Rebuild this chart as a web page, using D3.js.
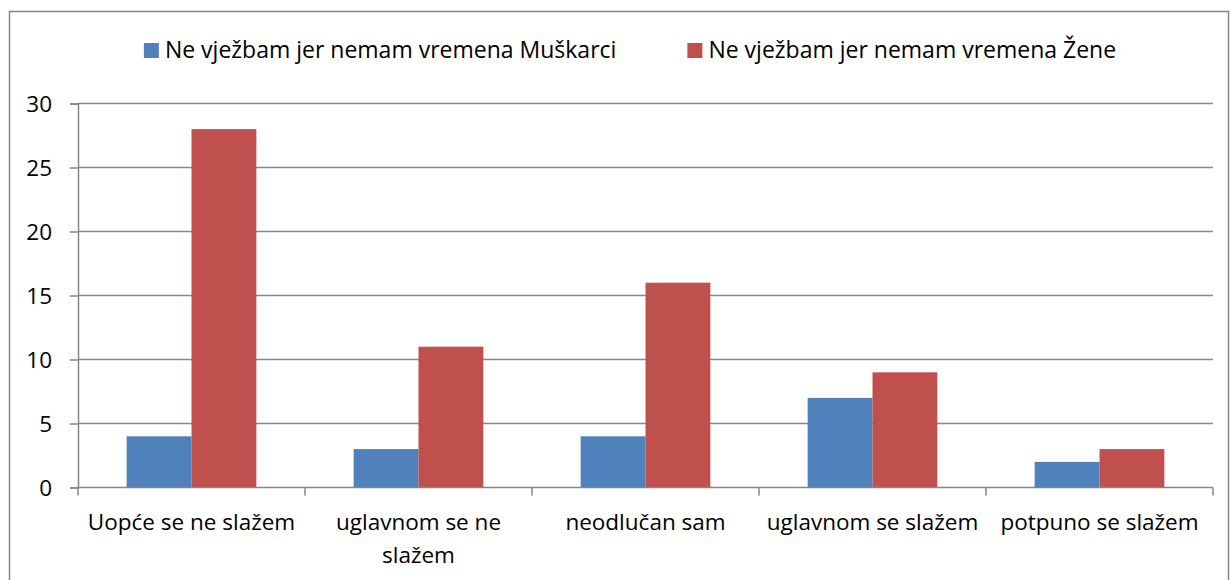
<!DOCTYPE html>
<html>
    <head>
        <meta charset="utf-8">
        <script src="https://d3js.org/d3.v7.min.js"></script>
        <style>
            body{margin:0;background:#fff;}
            text{font-family:"Open Sans","Noto Sans",sans-serif;fill:#000;}
        </style>
    </head>
    <body>
        <svg height="580" width="1231" id="chart"></svg>
        <script>
            // data
            const categories=["Uopće se ne slažem","uglavnom se ne slažem","neodlučan sam","uglavnom se slažem","potpuno se slažem"];
            const seriesNames=["Ne vježbam jer nemam vremena Muškarci","Ne vježbam jer nemam vremena Žene"];
            const muskarci=[4,3,4,7,2];
            const zene=[28,11,16,9,3];
            const yTicks=[0,5,10,15,20,25,30];
            const colors=["#4f81bd","#c0504d"];

            let svg=d3.select("#chart");
            let grey="#868686";
            let fs="22.5px";

            // outer frame
            svg.append("rect")
                .attr("x",9.5).attr("y",11.5)
                .attr("width",1219).attr("height",600)
                .style("fill","none").style("stroke",grey).style("stroke-width",1.5);

            let plotLeft=78, plotRight=1213, plotTop=103.5, plotBottom=487.5;

            let x0=d3.scaleBand().domain(categories).range([plotLeft,plotRight]).padding(0);
            let x1=d3.scaleBand().domain(seriesNames).range([0,x0.bandwidth()]).paddingInner(0).paddingOuter(0.75);
            let y=d3.scaleLinear().domain([0,30]).range([plotBottom,plotTop]);

            // gridlines + y axis
            let yAxis=svg.append("g")
                .attr("transform","translate("+plotLeft+",0)")
                .call(d3.axisLeft(y).tickValues(yTicks).tickSize(8).tickPadding(18));
            yAxis.select(".domain").style("stroke",grey).style("stroke-width",1.5);
            yAxis.selectAll(".tick line").style("stroke",grey).style("stroke-width",1.5);
            yAxis.selectAll(".tick text").style("font-size",fs).attr("dy","0.35em");
            svg.append("g").selectAll("line")
                .data(yTicks.filter(d=>d>0))
                .join("line")
                .attr("x1",plotLeft).attr("x2",plotRight)
                .attr("y1",d=>y(d)).attr("y2",d=>y(d))
                .style("stroke",grey).style("stroke-width",1.5);

            // bars
            let rows=categories.map((c,i)=>({cat:c,vals:[muskarci[i],zene[i]]}));
            svg.append("g").selectAll("g")
                .data(rows)
                .join("g")
                .attr("transform",d=>"translate("+x0(d.cat)+",0)")
                .selectAll("rect")
                .data(d=>d.vals.map((v,j)=>({name:seriesNames[j],v:v,j:j})))
                .join("rect")
                .attr("x",d=>x1(d.name))
                .attr("width",x1.bandwidth())
                .attr("y",d=>y(d.v))
                .attr("height",d=>y(0)-y(d.v))
                .style("fill",d=>colors[d.j]);

            // x axis
            let xAxis=svg.append("g").attr("transform","translate(0,"+plotBottom+")");
            xAxis.append("line").attr("x1",plotLeft).attr("x2",plotRight)
                .style("stroke",grey).style("stroke-width",1.5);
            let bounds=categories.map(c=>x0(c)).concat([plotRight]);
            xAxis.selectAll(".tk").data(bounds).join("line")
                .attr("class","tk")
                .attr("x1",d=>d).attr("x2",d=>d).attr("y1",0).attr("y2",8)
                .style("stroke",grey).style("stroke-width",1.5);

            let labels=xAxis.selectAll(".lbl").data(categories).join("text")
                .attr("class","lbl")
                .attr("x",d=>x0(d)+x0.bandwidth()/2)
                .attr("y",42)
                .attr("text-anchor","middle")
                .style("font-size",fs);
            labels.each(function(d){
                let t=d3.select(this);
                let words=d.split(" ");
                let line=[];
                let tspan=t.append("tspan").attr("x",t.attr("x")).attr("dy",0);
                words.forEach(w=>{
                    line.push(w);
                    tspan.text(line.join(" "));
                    if(tspan.node().getComputedTextLength()>x0.bandwidth()-4 && line.length>1){
                        line.pop();
                        tspan.text(line.join(" "));
                        line=[w];
                        tspan=t.append("tspan").attr("x",t.attr("x")).attr("dy",33).text(w);
                    }
                });
            });

            // legend
            let legend=svg.append("g").attr("transform","translate(0,50)");
            let items=legend.selectAll("g").data(seriesNames).join("g");
            items.append("rect").attr("width",15).attr("height",15).attr("y",-7)
                .style("fill",(d,i)=>colors[i]);
            items.append("text").attr("x",21).attr("y",0).attr("dy","0.35em")
                .style("font-size","23px").text(d=>d);
            let widths=[];
            items.each(function(){widths.push(this.getBBox().width);});
            let gap=71;
            let total=d3.sum(widths)+gap;
            let startX=630-total/2;
            items.attr("transform",(d,i)=>"translate("+(i==0?startX:startX+widths[0]+gap)+",0)");
        </script>
    </body>
</html>
